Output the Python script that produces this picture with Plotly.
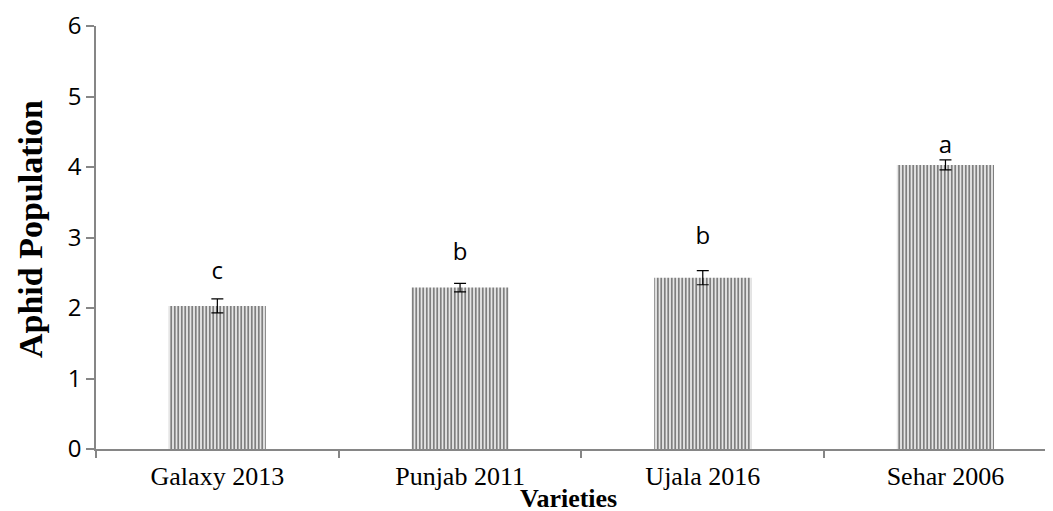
import plotly.graph_objects as go

varieties = ['Galaxy 2013', 'Punjab 2011', 'Ujala 2016', 'Sehar 2006']
population = [2.03, 2.29, 2.43, 4.03]
errors = [0.10, 0.06, 0.10, 0.07]
letters = ['c', 'b', 'b', 'a']
letter_y = [2.5, 2.76, 3.0, 4.28]

axis_grey = '#868686'

fig = go.Figure()

fig.add_trace(go.Bar(
    x=varieties,
    y=population,
    width=0.4,
    marker=dict(
        color='white',
        line=dict(width=0),
        pattern=dict(shape='|', fgcolor='black', bgcolor='white',
                     size=3.5, solidity=0.6, fillmode='overlay')
    ),
    error_y=dict(type='data', array=errors, visible=True,
                 color='black', thickness=1.2, width=6),
    showlegend=False
))

fig.add_trace(go.Scatter(
    x=varieties,
    y=letter_y,
    mode='text',
    text=letters,
    textfont=dict(family='Open Sans', size=24, color='black'),
    showlegend=False
))

# axis titles as annotations for tighter placement
fig.add_annotation(
    text='<b>Varieties</b>', xref='paper', yref='paper',
    x=0.49, y=-0.157, yanchor='bottom', showarrow=False,
    font=dict(family='Liberation Serif', size=26, color='black')
)
fig.add_annotation(
    text='<b>Aphid Population</b>', xref='paper', yref='paper',
    x=0, xshift=-66, xanchor='center', y=0.52, textangle=-90,
    showarrow=False,
    font=dict(family='Liberation Serif', size=34, color='black')
)

fig.update_layout(
    width=1053,
    height=511,
    margin=dict(l=88, r=0, t=18, b=70),
    plot_bgcolor='white',
    paper_bgcolor='white',
    bargap=0.6,
)

fig.update_xaxes(
    range=[-0.5, 3.476],
    showline=True,
    linecolor=axis_grey,
    linewidth=1.5,
    ticks='outside',
    tickson='boundaries',
    ticklen=7,
    tickcolor=axis_grey,
    tickwidth=1.5,
    ticklabelstandoff=3,
    showgrid=False,
    tickfont=dict(family='Liberation Serif', size=26, color='black')
)

fig.update_yaxes(
    range=[0, 6],
    dtick=1,
    showline=True,
    linecolor=axis_grey,
    linewidth=1.5,
    ticks='outside',
    ticklen=8,
    tickcolor=axis_grey,
    tickwidth=1.5,
    showgrid=False,
    zeroline=False,
    tickfont=dict(family='Open Sans', size=24, color='black')
)

fig.write_html("out.html")
